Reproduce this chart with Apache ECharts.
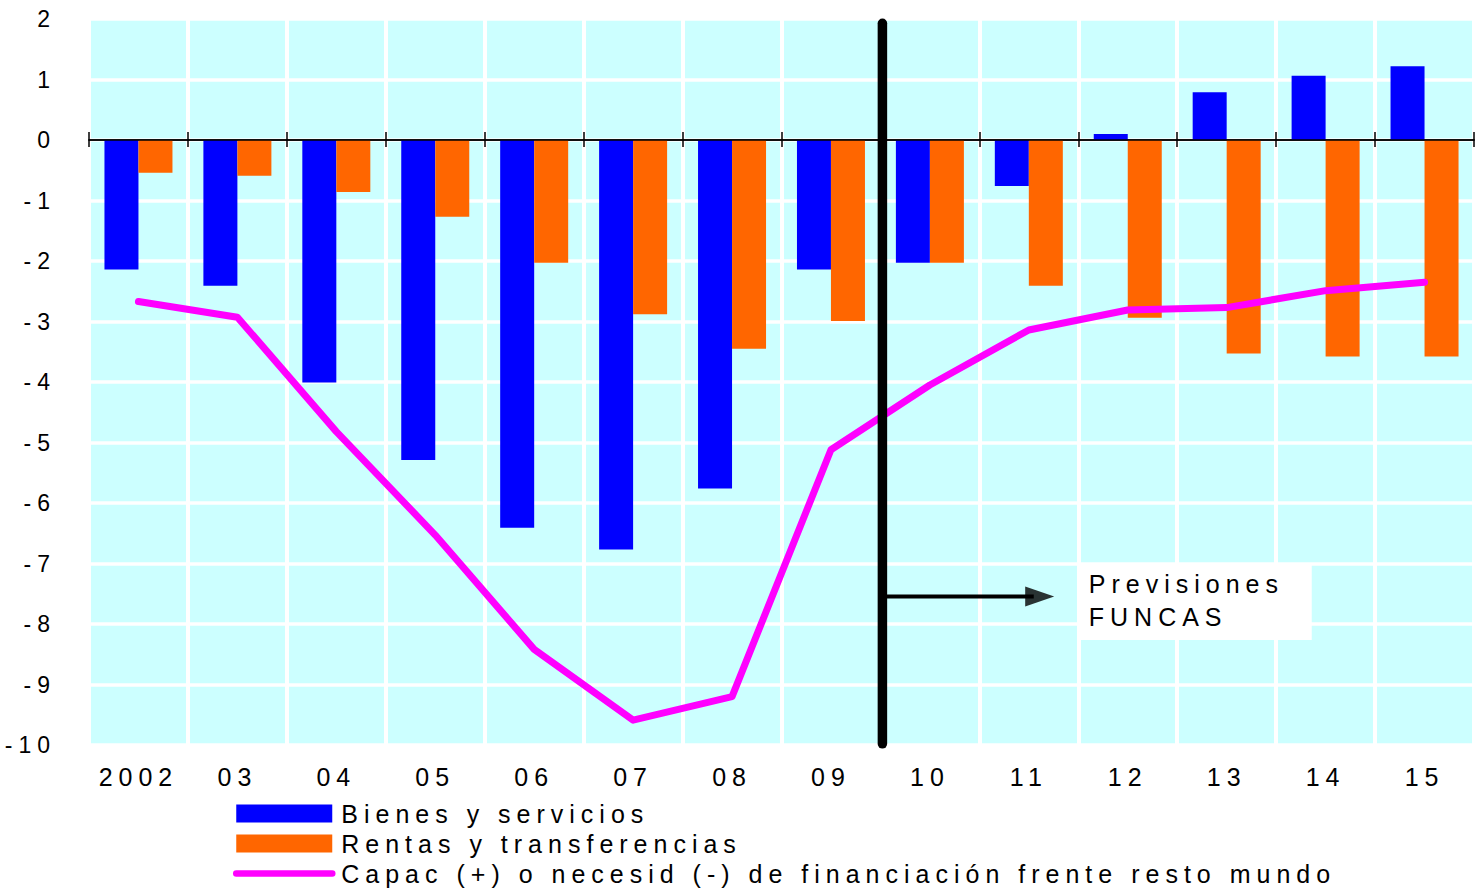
<!DOCTYPE html>
<html>
<head>
<meta charset="utf-8">
<script src="https://cdn.jsdelivr.net/npm/echarts@6/dist/echarts.min.js"></script>
<style>
  html, body { margin: 0; padding: 0; background: #fff; }
  #chart { width: 1476px; height: 890px; }
  #chart text { letter-spacing: 6px; }
</style>
</head>
<body>
<div id="chart"></div>
<script>
// ---- data ----
const years = ['2002', '03', '04', '05', '06', '07', '08', '09', '10', '11', '12', '13', '14', '15'];
const bienes = [-2.14, -2.41, -4.01, -5.29, -6.41, -6.77, -5.76, -2.14, -2.03, -0.76, 0.10, 0.79, 1.06, 1.22];
const rentas = [-0.54, -0.59, -0.86, -1.27, -2.03, -2.88, -3.45, -2.99, -2.03, -2.41, -2.94, -3.53, -3.58, -3.58];
const capac = [-2.67, -2.93, -4.82, -6.53, -8.42, -9.59, -9.20, -5.12, -4.05, -3.14, -2.81, -2.77, -2.49, -2.35];
const seriesNames = ['Bienes y servicios', 'Rentas y transferencias', 'Capac (+) o necesid (-) de financiación frente resto mundo'];
const yTicks = { min: -10, max: 2, step: 1 };
// annotation positions (in category units, 0..14 across the axis)
const dividerLine = [[8.02, 1.93], [8.02, -9.98]];
const arrowShaft = [[8.05, -7.545], [9.55, -7.545]];
const arrowHead = [[9.61, -7.545]];
const noteAnchor = [[10.03, -7.0]];
const noteText = 'Previsiones\nFUNCAS';

const FONT = 'Liberation Sans, Arial, sans-serif';
const chart = echarts.init(document.getElementById('chart'), null, { renderer: 'svg' });

chart.setOption({
  animation: false,
  backgroundColor: '#fff',
  textStyle: { fontFamily: FONT, color: '#000' },
  grid: { left: 89, right: 2, top: 19, bottom: 145, show: true, backgroundColor: '#CCFFFF', borderWidth: 0, containLabel: false },
  legend: {
    orient: 'vertical',
    left: 228,
    top: 796,
    height: 120,
    itemWidth: 96,
    itemHeight: 18,
    itemGap: 5,
    selectedMode: false,
    lineStyle: { width: 6.5, cap: 'round' },
    data: [
      { name: seriesNames[0], icon: 'rect' },
      { name: seriesNames[1], icon: 'rect' },
      { name: seriesNames[2], itemStyle: { opacity: 0, color: 'rgba(0,0,0,0)', borderWidth: 0 } }
    ],
    textStyle: { fontFamily: FONT, fontSize: 25, lineHeight: 25, color: '#000', padding: [0, 0, 0, 4] }
  },
  xAxis: [
    {
      type: 'category', data: years, position: 'bottom', boundaryGap: true,
      axisLine: { onZero: true, onZeroAxisIndex: 0, lineStyle: { color: '#000', width: 1.5 } },
      axisTick: { show: true, length: 7, interval: 0, lineStyle: { color: '#000', width: 1.5 } },
      axisLabel: { show: false },
      splitLine: { show: true, interval: 0, lineStyle: { color: '#fff', width: 4 } }
    },
    {
      type: 'category', data: years, position: 'top', boundaryGap: true, z: 10,
      axisLine: { onZero: true, onZeroAxisIndex: 1, lineStyle: { color: '#000', width: 1.5 } },
      axisTick: { show: true, length: 8, interval: 0, lineStyle: { color: '#000', width: 1.5 } },
      axisLabel: { show: false },
      splitLine: { show: false }
    },
    {
      type: 'category', data: years, position: 'bottom', boundaryGap: true,
      axisLine: { show: false, onZero: false },
      axisTick: { show: false },
      axisLabel: { show: true, interval: 0, margin: 19, fontSize: 25, color: '#000', fontFamily: FONT },
      splitLine: { show: false }
    },
    { type: 'value', min: 0, max: years.length, show: false, position: 'top', axisLine: { onZero: false } }
  ],
  yAxis: [
    {
      type: 'value', min: yTicks.min, max: yTicks.max, interval: yTicks.step,
      axisLine: { show: false, onZero: false },
      axisTick: { show: false },
      axisLabel: { margin: 33, fontSize: 23, color: '#000', fontFamily: FONT },
      splitLine: { show: true, lineStyle: { color: '#fff', width: 3.5 } }
    },
    {
      type: 'value', min: yTicks.min, max: yTicks.max, interval: yTicks.step, show: false,
      axisLine: { onZero: false }, splitLine: { show: false }
    }
  ],
  series: [
    {
      name: seriesNames[0], type: 'bar', xAxisIndex: 0, yAxisIndex: 0, data: bienes,
      barWidth: 34, barGap: '0%', itemStyle: { color: '#0000FF' }
    },
    {
      name: seriesNames[1], type: 'bar', xAxisIndex: 0, yAxisIndex: 0, data: rentas,
      barWidth: 34, barGap: '0%', itemStyle: { color: '#FF6600' }
    },
    {
      name: seriesNames[2], type: 'line', xAxisIndex: 0, yAxisIndex: 0, data: capac,
      symbol: 'none', z: 5,
      itemStyle: { color: '#FF00FF' },
      lineStyle: { color: '#FF00FF', width: 7, cap: 'round', join: 'round' }
    },
    {
      name: 'divider', type: 'line', xAxisIndex: 3, yAxisIndex: 0, data: dividerLine,
      symbol: 'none', clip: false, z: 12, silent: true,
      lineStyle: { color: '#000', width: 9.5, cap: 'round' }
    },
    {
      name: 'arrow', type: 'line', xAxisIndex: 3, yAxisIndex: 0, data: arrowShaft,
      symbol: 'none', z: 12, silent: true,
      lineStyle: { color: '#000', width: 4 }
    },
    {
      name: 'arrowHead', type: 'scatter', xAxisIndex: 3, yAxisIndex: 0, data: arrowHead,
      symbol: 'triangle', symbolSize: [20, 29], symbolRotate: -90, z: 12, silent: true,
      itemStyle: { color: '#000' }
    },
    {
      name: 'note', type: 'scatter', xAxisIndex: 3, yAxisIndex: 0, data: noteAnchor,
      symbolSize: 1, z: 13, silent: true,
      itemStyle: { color: 'rgba(0,0,0,0)' },
      label: {
        show: true, position: [0, 0], formatter: noteText,
        align: 'left', verticalAlign: 'top', opacity: 1,
        backgroundColor: '#ffffff', padding: [4, 0, 7, 8], width: 223,
        lineHeight: 33, fontSize: 25, color: '#000', fontFamily: FONT
      }
    }
  ]
});
</script>
</body>
</html>
